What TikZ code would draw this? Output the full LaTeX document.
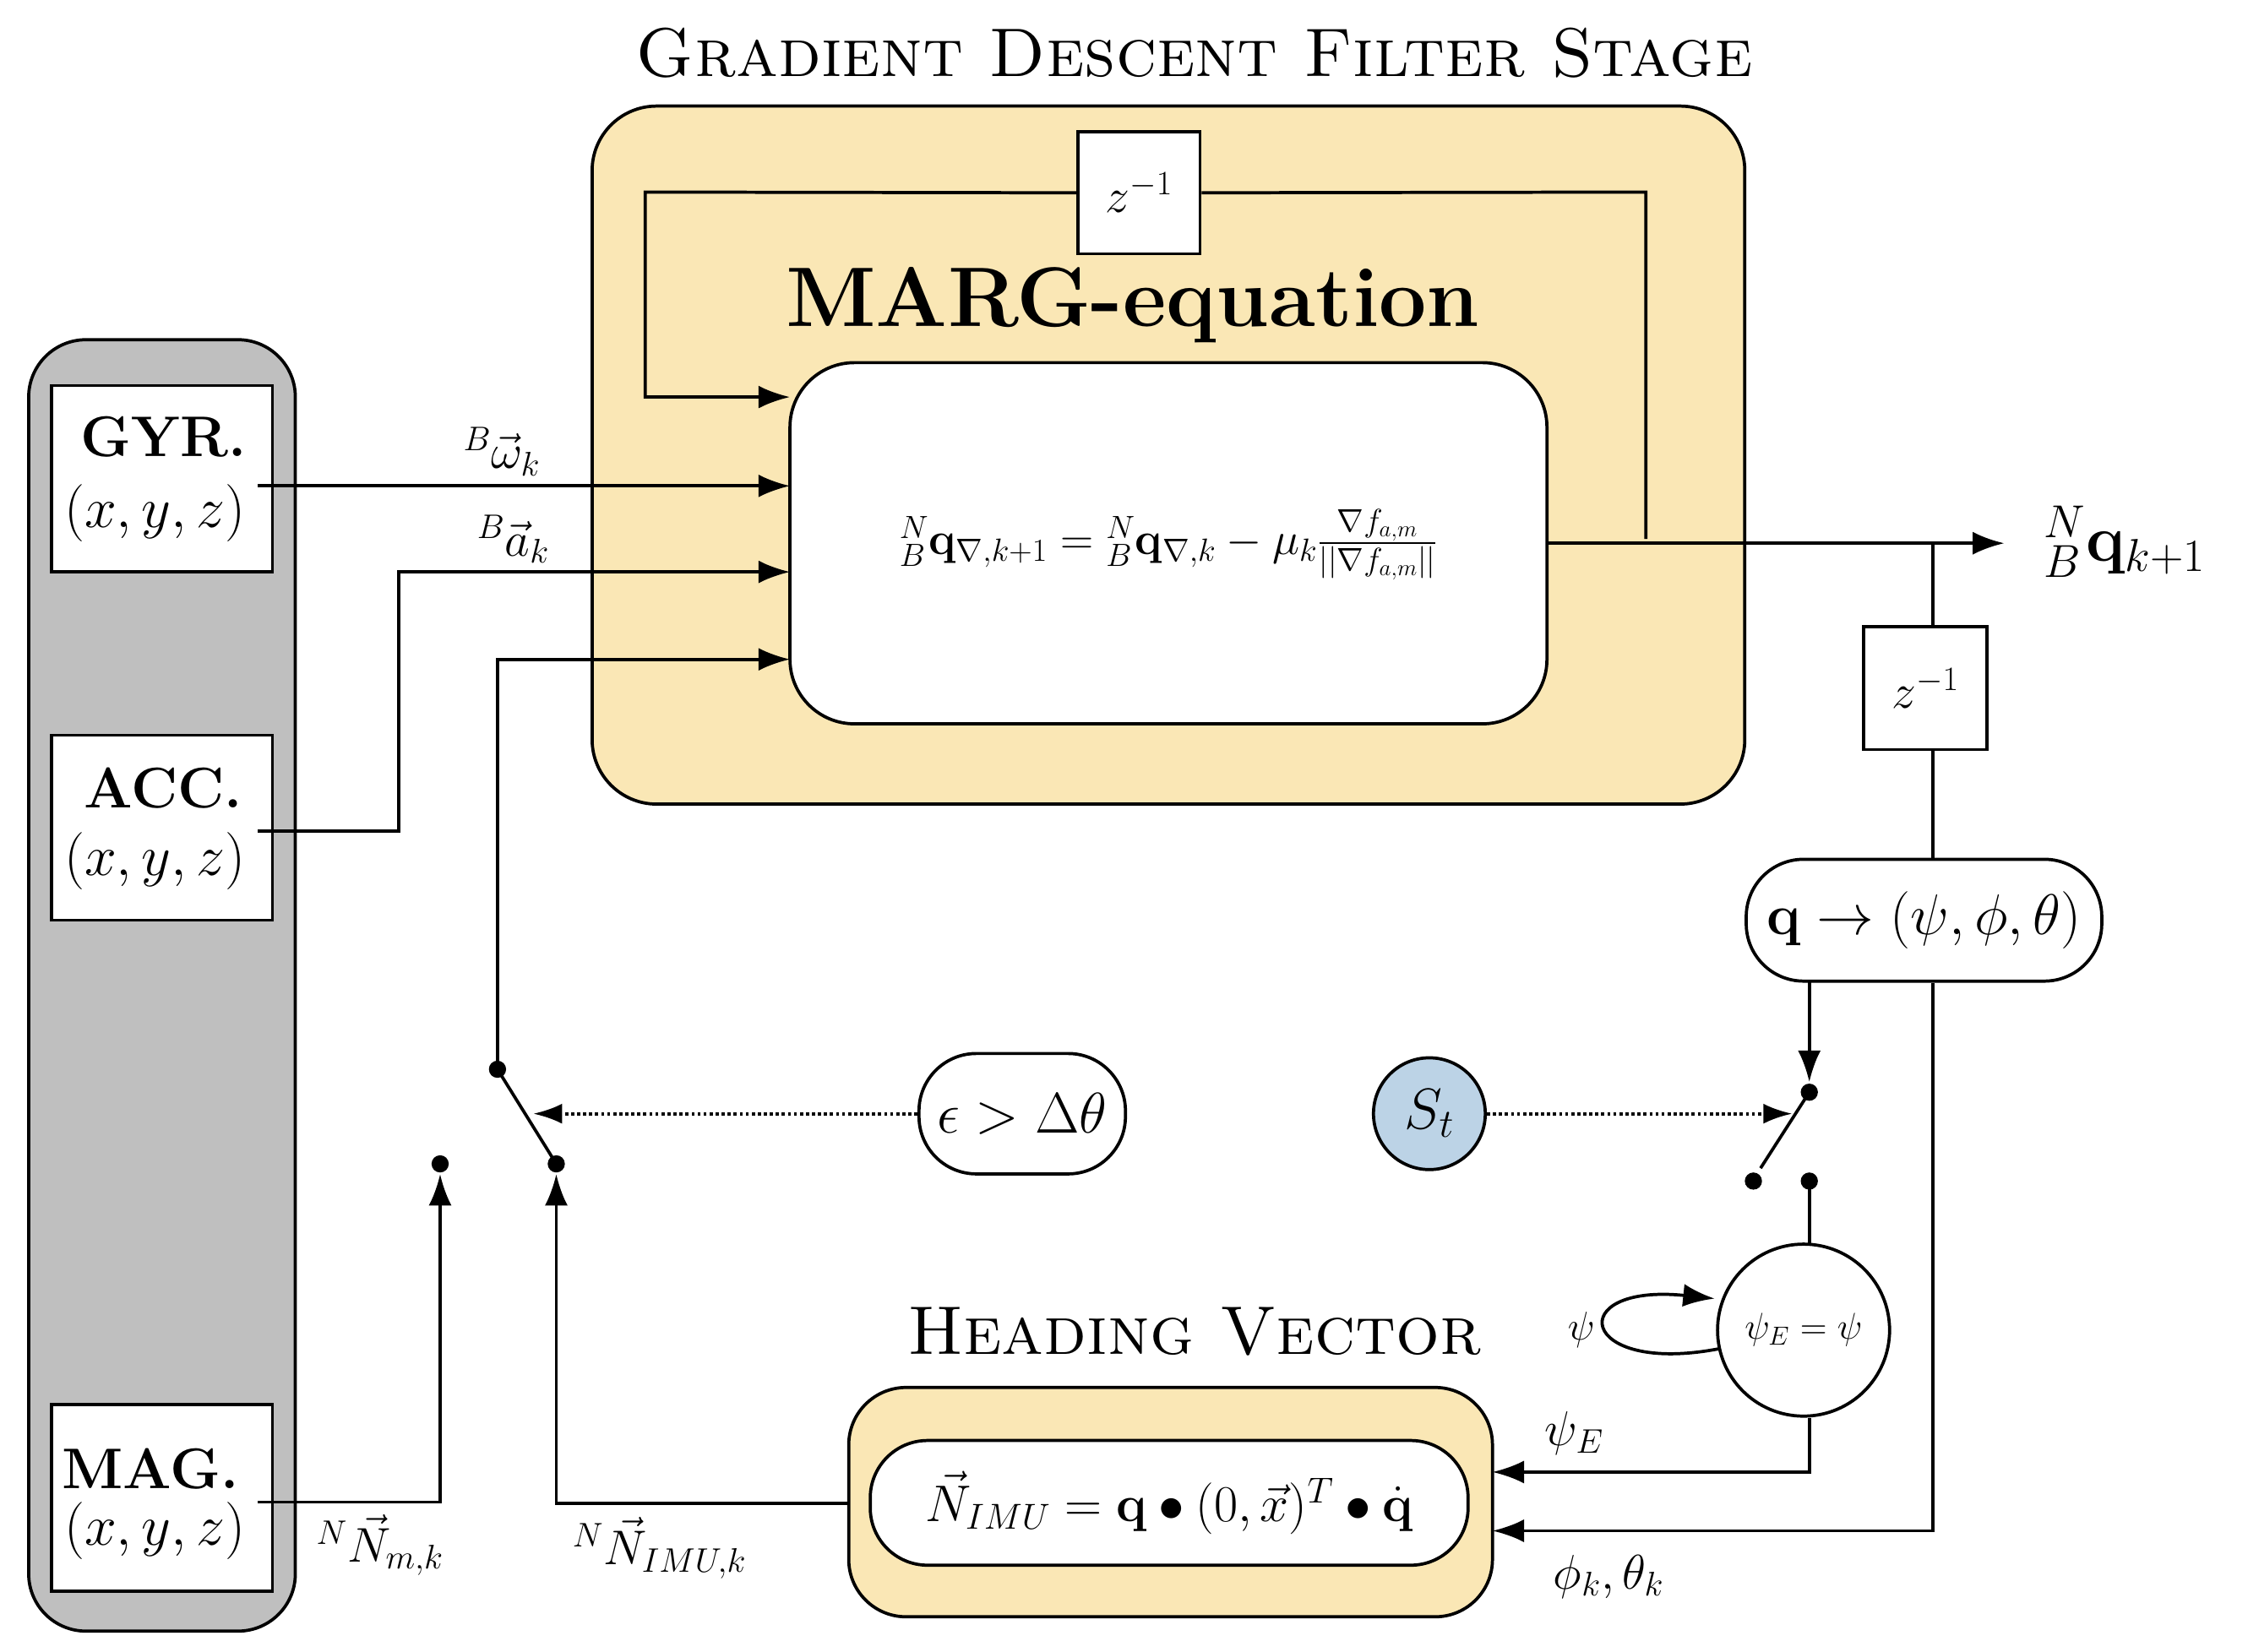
\documentclass[tikz,border=0pt]{standalone}
\usepackage{fix-cm}
\usepackage{amsmath}
\usetikzlibrary{arrows.meta}
\definecolor{ylw}{HTML}{FAE7B5}
\definecolor{gry}{HTML}{BFBFBF}
\definecolor{blu}{HTML}{BCD3E6}
\begin{document}
\begin{tikzpicture}[x=1pt,y=-1pt,line width=2.2pt,
  arr/.style={-{Latex[length=22pt,width=16pt]}},
  darr/.style={dotted,-{Latex[length=20pt,width=14pt]}},
  dot/.style={circle,fill=black,inner sep=0pt,minimum size=12pt},
  big/.style={font=\fontsize{40}{44}\selectfont},
  mid/.style={font=\fontsize{34}{38}\selectfont}]
\useasboundingbox (0,0) rectangle (1568,1152);
% sensor panel
\draw[fill=gry,rounded corners=40pt] (20,237) rectangle (206,1138);
\draw[fill=white] (36,269) rectangle (190,399);
\draw[fill=white] (36,513) rectangle (190,642);
\draw[fill=white] (36,980) rectangle (190,1110);
\node[big] (gyr) at (114,305) {\textbf{GYR.}};
\node[big] at (108,358) {$(x,y,z)$};
\node[big] (acc) at (114,550) {\textbf{ACC.}};
\node[big] at (108,601) {$(x,y,z)$};
\node[big] (mag) at (105,1025) {\textbf{MAG.}};
\node[big] at (108,1068) {$(x,y,z)$};
\coordinate (gyo) at (180,339);
\coordinate (aco) at (180,580);
\coordinate (mgo) at (180,1048);
% filter stage
\node[font=\fontsize{48}{52}\selectfont\scshape] at (833,37) {Gradient Descent Filter Stage};
\draw[fill=ylw,rounded corners=45pt] (413,74) rectangle (1217,561);
\node[font=\fontsize{59}{63}\selectfont\bfseries] at (790,213) {MARG-equation};
\draw[fill=white,rounded corners=45pt] (551,253) rectangle (1079,505);
\node[font=\fontsize{32}{36}\selectfont] (eq) at (815,380) {${}^N_B\mathbf{q}_{\nabla,k+1}={}^N_B\mathbf{q}_{\nabla,k}-\mu_k\frac{\nabla f_{a,m}}{||\nabla f_{a,m}||}$};
\node[draw,fill=white,minimum size=85pt,mid] (z1) at (794.5,134.5) {$z^{-1}$};
\draw[arr] (1148,376) -- (1148,134) -- (z1.east) (z1.west) -- (450,134) -- (450,277) -- (551,277);
\draw[arr] (gyo) -- (551,339);
\node[mid] at (350,315) {${}^B\vec{\omega}_k$};
\draw[arr] (aco) -- (278,580) -- (278,399) -- (551,399);
\node[mid] at (358,376) {${}^B\vec{a}_k$};
% output
\draw[arr] (1079,379) -- (1398,379);
\node[font=\fontsize{46}{50}\selectfont] (out) at (1482,378) {${}^N_B\mathbf{q}_{k+1}$};
\node[draw,fill=white,minimum size=86pt,mid] (z2) at (1343,480) {$z^{-1}$};
\draw (1348,379) -- (z2.north -| 1348,0);
\node[draw,fill=white,rounded corners=40pt,minimum width=248pt,minimum height=85pt,big] (q2e) at (1342,642) {$\mathbf{q}\rightarrow(\psi,\phi,\theta)$};
\draw (z2.south -| 1348,0) -- (q2e.north -| 1348,0);
% right switch
\node[dot] (rs) at (1262,762) {};
\node[dot] (rl) at (1223,824) {};
\node[dot] (rr) at (1262,824) {};
\draw[arr] (1262,685) -- (rs.north);
\draw (rs.center) -- (1228,815);
\node[circle,draw,fill=blu,minimum size=78pt,big] (st) at (997,777) {$S_t$};
\draw[darr] (st) -- (1250,777);
% psi circle
\node[circle,draw,fill=white,minimum size=120pt,inner sep=0pt,font=\fontsize{26}{30}\selectfont] (pe) at (1258,928) {$\psi_E=\psi$};
\draw (rr.center) -- (1262,868);
\draw[arr] (1199,941) .. controls (1100,960) and (1090,895) .. (1196,906);
\node[font=\fontsize{28}{32}\selectfont] at (1103,928) {$\psi$};
% left switch
\node[dot] (ls) at (347,746) {};
\node[dot] (ll) at (307,812) {};
\node[dot] (lr) at (388,812) {};
\draw (ls.center) -- (lr.center);
\draw[arr] (ls.center) -- (347,460) -- (551,460);
\node[draw,fill=white,rounded corners=40pt,minimum width=144pt,minimum height=84pt,big] (eps) at (713,777) {$\epsilon>\Delta\theta$};
\draw[darr] (eps) -- (372,777);
\draw[arr] (mgo) -- (307,1048) -- (ll.south);
\node[mid] at (265,1078) {${}^N\vec{N}_{m,k}$};
% heading
\node[font=\fontsize{48}{52}\selectfont\scshape] at (833,929) {Heading Vector};
\draw[fill=ylw,rounded corners=40pt] (592,968) rectangle (1041,1128);
\node[draw,fill=white,rounded corners=40pt,minimum width=417pt,minimum height=87pt,inner sep=2pt,font=\fontsize{36}{40}\selectfont] (hv) at (815.5,1048.5) {$\vec{N}_{IMU}=\mathbf{q}\bullet(0,\vec{x})^T\bullet\dot{\mathbf{q}}$};
\draw[arr] (592,1049) -- (388,1049) -- (lr.south);
\node[mid] at (460,1080) {${}^N\vec{N}_{IMU,k}$};
\draw[arr] (pe.south -| 1262,0) -- (1262,1027) -- (1041,1027);
\node[mid] at (1098,1000) {$\psi_E$};
\draw[arr] (q2e.south -| 1348,0) -- (1348,1068) -- (1041,1068);
\node[mid] at (1122,1100) {$\phi_k,\theta_k$};
\end{tikzpicture}
\end{document}
